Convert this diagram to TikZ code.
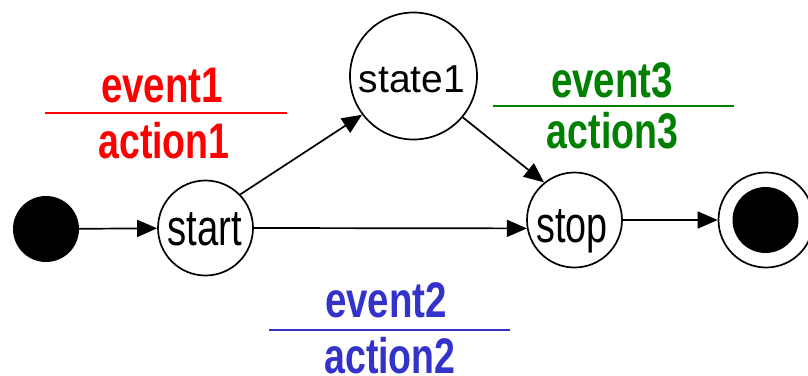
\documentclass[tikz,border=0pt]{standalone}
\usepackage{fontspec}
\setmainfont{Liberation Sans}
\usetikzlibrary{arrows.meta}
\definecolor{evred}{RGB}{255,0,0}
\definecolor{evgreen}{RGB}{0,128,0}
\definecolor{evblue}{RGB}{51,51,204}

% narrow the lettering horizontally
\newcommand{\squeezed}[2][0.77]{\scalebox{#1}[1]{#2}}

\begin{document}
\begin{tikzpicture}[x=1pt,y=-1pt,
  statecircle/.style={circle,draw,line width=1.7pt,inner sep=0pt,minimum size=#1},
  dot/.style={circle,fill=black,inner sep=0pt,minimum size=#1},
  trans/.style={-{Triangle[length=20pt,width=17pt]},line width=1.7pt},
  statetext/.style={anchor=base,inner sep=0pt,font=\fontsize{51}{60}\selectfont},
  guard/.style={anchor=base,inner sep=0pt,text=#1,font=\fontsize{50}{60}\selectfont\bfseries},
  guardline/.style={draw=#1,line width=1.7pt},
]
\useasboundingbox (0,0) rectangle (808,375);

% states
\node[dot=66pt] (init) at (46,229) {};
\node[statecircle=95pt] (start) at (205.5,228) {};
\node[statecircle=127pt] (state1) at (413.5,76) {};
\node[statecircle=95pt] (stop) at (574.5,220) {};
\node[statecircle=95pt] (final) at (766,220) {};
\node[dot=66pt] (finaldot) at (765.5,220) {};

% state names
\node[statetext] (starttxt) at (205,245) {\squeezed[0.75]{start}};
\node[statetext,font=\fontsize{39}{46}\selectfont] (state1txt) at (412,92) {state1};
\node[statetext] (stoptxt) at (572,242) {\squeezed[0.74]{stop}};

% transitions
\draw[trans] (init) -- (start);
\draw[trans] (start.44) -- (state1.217);
\draw[trans] (start.east) -- (stop.190);
\draw[trans] (state1.-40) -- (stop.129);
\draw[trans] (stop) -- (final);

% event / action labels
\node[guard=evred] (ev1) at (162,102) {\squeezed{event1}};
\draw[guardline=evred] (45,113) -- (287,113);
\node[guard=evred] (ac1) at (164,158) {\squeezed[0.75]{action1}};

\node[guard=evgreen] (ev3) at (612,97) {\squeezed{event3}};
\draw[guardline=evgreen] (493,106) -- (734,106);
\node[guard=evgreen] (ac3) at (612.5,148) {\squeezed[0.75]{action3}};

\node[guard=evblue] (ev2) at (386,317) {\squeezed{event2}};
\draw[guardline=evblue] (269,330) -- (510,330);
\node[guard=evblue] (ac2) at (390,373) {\squeezed[0.75]{action2}};
\end{tikzpicture}
\end{document}
